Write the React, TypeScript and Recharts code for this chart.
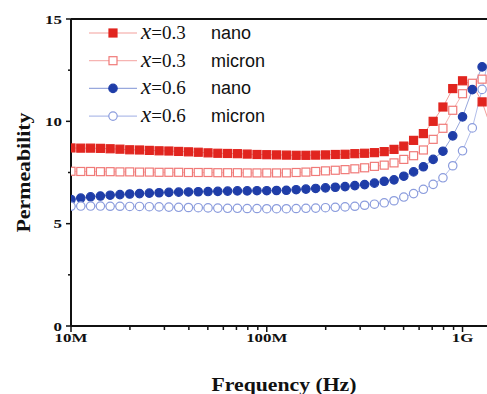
import { LineChart, Line, XAxis, YAxis, Legend, ReferenceLine } from "recharts";

// sweep frequencies, MHz (20 points per decade)
const FREQ_MHZ = [
  10, 11.22, 12.59, 14.13, 15.85, 17.78, 19.95, 22.39, 25.12, 28.18,
  31.62, 35.48, 39.81, 44.67, 50.12, 56.23, 63.1, 70.79, 79.43, 89.13,
  100, 112.2, 125.9, 141.3, 158.5, 177.8, 199.5, 223.9, 251.2, 281.8,
  316.2, 354.8, 398.1, 446.7, 501.2, 562.3, 631, 707.9, 794.3, 891.3,
  1000, 1122, 1259, 1413,
];

const NANO_03 = [
  8.7, 8.69, 8.69, 8.68, 8.66, 8.64, 8.61, 8.6, 8.58, 8.56,
  8.55, 8.53, 8.51, 8.49, 8.46, 8.44, 8.43, 8.42, 8.4, 8.38,
  8.37, 8.36, 8.35, 8.34, 8.34, 8.35, 8.36, 8.38, 8.39, 8.42,
  8.44, 8.47, 8.52, 8.63, 8.79, 9.07, 9.4, 10.0, 10.7, 11.6,
  11.98, 11.8, 10.95, 9.55,
];

const MICRON_03 = [
  7.56, 7.55, 7.55, 7.54, 7.54, 7.53, 7.53, 7.52, 7.52, 7.51,
  7.51, 7.51, 7.5, 7.5, 7.5, 7.49, 7.49, 7.49, 7.48, 7.48,
  7.48, 7.48, 7.48, 7.5, 7.52, 7.55, 7.58, 7.61, 7.64, 7.68,
  7.73, 7.8, 7.86, 7.97, 8.14, 8.32, 8.6, 9.12, 9.66, 10.54,
  11.35, 11.86, 12.06, 11.9,
];

const NANO_06 = [
  6.18, 6.25, 6.31, 6.35, 6.39, 6.42, 6.45, 6.47, 6.49, 6.51,
  6.53, 6.54, 6.55, 6.56, 6.57, 6.58, 6.59, 6.6, 6.6, 6.61,
  6.61, 6.62, 6.63, 6.66, 6.69, 6.72, 6.75, 6.78, 6.81, 6.86,
  6.91, 6.98, 7.07, 7.14, 7.32, 7.53, 7.78, 8.14, 8.54, 9.29,
  10.22, 11.55, 12.66, 12.85,
];

const MICRON_06 = [
  5.85, 5.86, 5.86, 5.86, 5.85, 5.85, 5.84, 5.84, 5.83, 5.82,
  5.81, 5.8, 5.79, 5.78, 5.77, 5.76, 5.75, 5.75, 5.74, 5.74,
  5.73, 5.73, 5.73, 5.74, 5.75, 5.76, 5.78, 5.8, 5.82, 5.85,
  5.9, 5.95, 6.02, 6.12, 6.3, 6.47, 6.68, 6.92, 7.24, 7.83,
  8.56, 9.68, 11.56, 13.9,
];

const X_TICKS = [
  1e7, 2e7, 3e7, 4e7, 5e7, 6e7, 7e7, 8e7, 9e7,
  1e8, 2e8, 3e8, 4e8, 5e8, 6e8, 7e8, 8e8, 9e8, 1e9,
];
const X_TICK_LABELS: Record<string, string> = { "10000000": "10M", "100000000": "100M", "1000000000": "1G" };

const Y_TICKS = [0, 2.5, 5, 7.5, 10, 12.5, 15];

type Shape = "square" | "circle";

const SERIES: { key: string; x: string; size: string; values: number[]; shape: Shape; filled: boolean; color: string; line: string }[] = [
  { key: "n03", x: "0.3", size: "nano", values: NANO_03, shape: "square", filled: true, color: "#E1251F", line: "#F3A09C" },
  { key: "m03", x: "0.3", size: "micron", values: MICRON_03, shape: "square", filled: false, color: "#F07A78", line: "#F6B4B2" },
  { key: "n06", x: "0.6", size: "nano", values: NANO_06, shape: "circle", filled: true, color: "#1F3DA8", line: "#98A8DD" },
  { key: "m06", x: "0.6", size: "micron", values: MICRON_06, shape: "circle", filled: false, color: "#8B9CDD", line: "#B2BEEA" },
];

const rows = FREQ_MHZ.map((mhz, i) => {
  const row: Record<string, number> = { f: mhz * 1e6 };
  SERIES.forEach((s) => (row[s.key] = s.values[i]));
  return row;
});

const SERIF = "'Liberation Serif', 'Times New Roman', serif";
const SANS = "'Liberation Sans', Arial, sans-serif";
const INK = "#111";

function Marker(props: { cx: number; cy: number; shape: Shape; filled: boolean; color: string }) {
  const { cx, cy, shape, filled, color } = props;
  if (cx == null || cy == null) return null;
  const fill = filled ? color : "#fff";
  if (shape === "square") {
    return <rect x={cx - 4} y={cy - 4} width={8} height={8} fill={fill} stroke={color} strokeWidth={1.2} />;
  }
  return <circle cx={cx} cy={cy} r={4.2} fill={fill} stroke={color} strokeWidth={1.2} />;
}

function FreqTick(props: any) {
  const { x, y, payload } = props;
  const label = X_TICK_LABELS[String(payload.value)];
  return (
    <g>
      <line x1={x} x2={x} y1={y} y2={y + (label ? 6 : 4)} stroke={INK} strokeWidth={1.5} />
      {label && (
        <text
          transform={`translate(${x},${y + 16}) scale(1.3,1)`}
          textAnchor="middle"
          fontFamily={SERIF}
          fontWeight="bold"
          fontSize={13}
          fill={INK}
        >
          {label}
        </text>
      )}
    </g>
  );
}

function PermTick(props: any) {
  const { x, y, payload } = props;
  const major = payload.value % 5 === 0;
  return (
    <g>
      <line x1={x - (major ? 5 : 3)} x2={x} y1={y} y2={y} stroke={INK} strokeWidth={1.5} />
      {major && (
        <text
          transform={`translate(${x - 9},${y + 4.5}) scale(1.3,1)`}
          textAnchor="end"
          fontFamily={SERIF}
          fontWeight="bold"
          fontSize={13}
          fill={INK}
        >
          {payload.value}
        </text>
      )}
    </g>
  );
}

function SampleLegend() {
  return (
    <svg width={220} height={120} style={{ display: "block", overflow: "visible" }}>
      {SERIES.map((s, i) => {
        const cy = 15 + i * 27.7;
        return (
          <g key={s.key}>
            <line x1={9} x2={57} y1={cy} y2={cy} stroke={s.line} strokeWidth={1.2} />
            <Marker cx={33} cy={cy} shape={s.shape} filled={s.filled} color={s.color} />
            <text x={61} y={cy + 6} fontFamily={SERIF} fill={INK}>
              <tspan fontStyle="italic" fontSize={23}>x</tspan>
              <tspan fontSize={19}>={s.x}</tspan>
            </text>
            <text x={131} y={cy + 6} fontFamily={SANS} fontSize={18} fill={INK}>
              {s.size}
            </text>
          </g>
        );
      })}
    </svg>
  );
}

export default function App() {
  return (
    <div style={{ position: "absolute", left: 0, top: 0, width: 487, height: 394, overflow: "hidden", background: "#fff" }}>
      <LineChart width={497} height={394} data={rows} margin={{ top: 19, right: 0, bottom: 0, left: 0 }}>
        <XAxis
          dataKey="f"
          type="number"
          scale="log"
          domain={[1e7, 1.5e9]}
          allowDataOverflow
          ticks={X_TICKS}
          interval={0}
          height={68}
          tickSize={0}
          tickMargin={0}
          tickLine={false}
          tick={<FreqTick />}
          axisLine={{ stroke: INK, strokeWidth: 2 }}
          label={{
            content: () => (
              <text
                x={284}
                y={391}
                textAnchor="middle"
                fontFamily={SERIF}
                fontWeight="bold"
                fontSize={18}
                fill={INK}
                textLength={145}
                lengthAdjust="spacingAndGlyphs"
              >
                Frequency (Hz)
              </text>
            ),
          }}
        />
        <YAxis
          type="number"
          domain={[0, 15]}
          ticks={Y_TICKS}
          interval={0}
          width={71}
          tickSize={0}
          tickMargin={0}
          tickLine={false}
          tick={<PermTick />}
          axisLine={{ stroke: INK, strokeWidth: 2 }}
          label={{
            content: () => (
              <text
                transform="translate(30,172.5) rotate(-90)"
                textAnchor="middle"
                fontFamily={SERIF}
                fontWeight="bold"
                fontSize={18}
                fill={INK}
                textLength={120}
                lengthAdjust="spacingAndGlyphs"
              >
                Permeability
              </text>
            ),
          }}
        />
        <ReferenceLine y={15} stroke={INK} strokeWidth={2} />
        {SERIES.map((s) => (
          <Line
            key={s.key}
            dataKey={s.key}
            name={`x=${s.x} ${s.size}`}
            type="linear"
            stroke={s.line}
            strokeWidth={1}
            isAnimationActive={false}
            activeDot={false}
            dot={(p: any) => (
              <Marker key={`${s.key}-${p.index}`} cx={p.cx} cy={p.cy} shape={s.shape} filled={s.filled} color={s.color} />
            )}
          />
        ))}
        <Legend
          layout="vertical"
          align="center"
          verticalAlign="middle"
          wrapperStyle={{ left: 80, top: 18, width: 220 }}
          content={() => <SampleLegend />}
        />
      </LineChart>
    </div>
  );
}
